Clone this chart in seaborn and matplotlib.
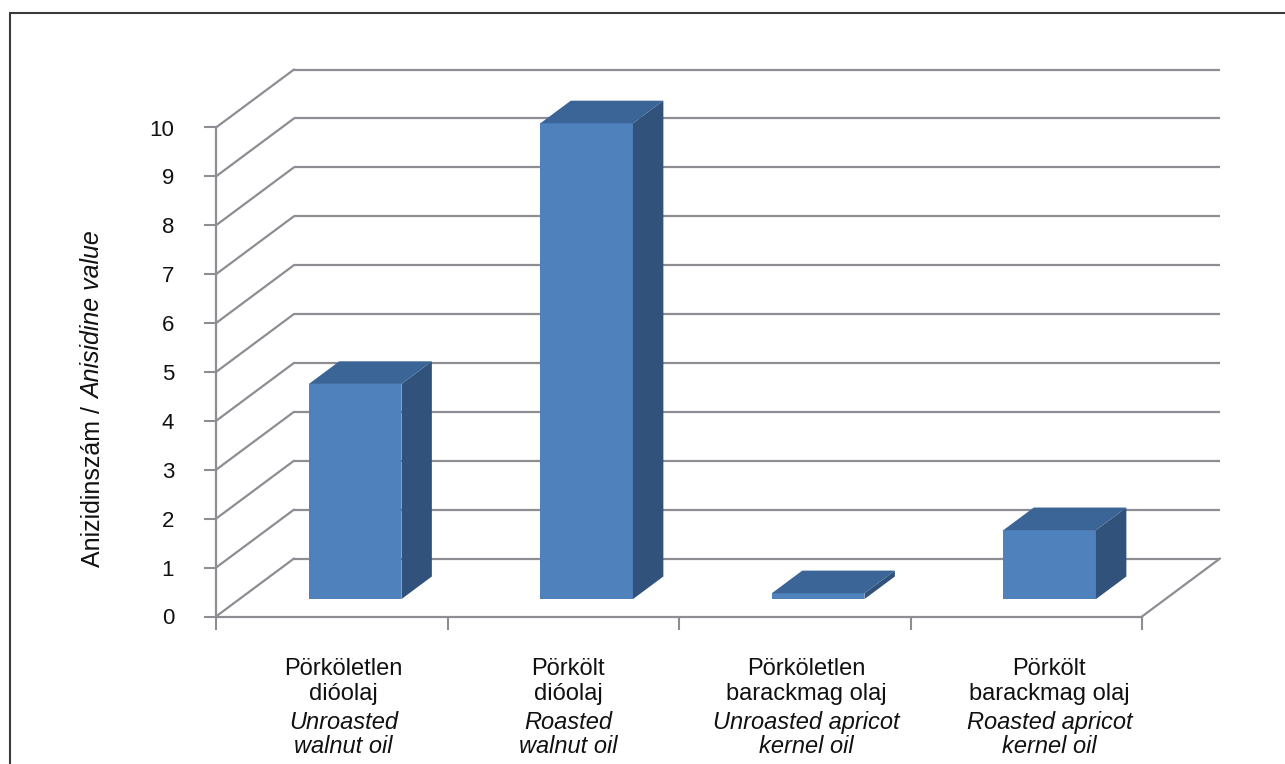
import matplotlib
matplotlib.use("Agg")
import matplotlib.pyplot as plt
from matplotlib.patches import Polygon
from matplotlib.lines import Line2D
import seaborn as sns

# Anizidinszám / Anisidine value of the four oils
labels_hu = ['Pörköletlen\ndióolaj', 'Pörkölt\ndióolaj',
             'Pörköletlen\nbarackmag olaj', 'Pörkölt\nbarackmag olaj']
labels_en = ['Unroasted\nwalnut oil', 'Roasted\nwalnut oil',
             'Unroasted apricot\nkernel oil', 'Roasted apricot\nkernel oil']
anisidine = [4.40, 9.73, 0.12, 1.41]
yticks = list(range(0, 11))

sns.set_style('white')
plt.rcParams['font.family'] = ['Liberation Sans', 'DejaVu Sans']

W, H = 1285, 764
fig = plt.figure(figsize=(W / 100, H / 100), dpi=100)
ax = fig.add_axes([216 / W, 1 - 616.5 / H, 926 / W, 489 / H])

front_col = '#4f81bd'
side_col = '#31527b'
top_col = '#3b6596'
grid_col = '#8c8e93'

sns.barplot(x=labels_hu, y=anisidine, color=front_col, width=0.4,
            saturation=1, ax=ax, zorder=3)

ax.set_xlim(-0.5, 3.5)
ax.set_ylim(0, 10)

# depth of the 3d box (in data units)
DX, DY = 78 / 231.5, 58 / 48.9
f0, f1 = 0.30, 0.69
ddx, ddy = (f1 - f0) * DX, (f1 - f0) * DY

for p in list(ax.patches):
    x0 = p.get_x() + f0 * DX
    y0 = f0 * DY
    w, h = p.get_width(), p.get_height()
    p.set_x(x0)
    p.set_y(y0)
    p.set_linewidth(0)
    p.set_clip_on(False)
    top = Polygon([(x0, y0 + h), (x0 + w, y0 + h), (x0 + w + ddx, y0 + h + ddy),
                   (x0 + ddx, y0 + h + ddy)], closed=True, facecolor=top_col,
                  edgecolor='none', zorder=3, clip_on=False)
    side = Polygon([(x0 + w, y0), (x0 + w + ddx, y0 + ddy), (x0 + w + ddx, y0 + h + ddy),
                    (x0 + w, y0 + h)], closed=True, facecolor=side_col,
                   edgecolor='none', zorder=3, clip_on=False)
    ax.add_patch(side)
    ax.add_patch(top)

# back wall gridlines + left wall diagonals
for v in yticks:
    ax.plot([-0.5 + DX, 3.5 + DX], [v + DY, v + DY], color=grid_col, lw=1.6,
            zorder=1, clip_on=False, solid_capstyle='butt')
    ax.plot([-0.5, -0.5 + DX], [v, v + DY], color=grid_col, lw=1.6,
            zorder=1, clip_on=False)
# floor right edge
ax.plot([3.5, 3.5 + DX], [0, DY], color=grid_col, lw=1.6, zorder=1, clip_on=False)

for s in ['top', 'right']:
    ax.spines[s].set_visible(False)
for s in ['left', 'bottom']:
    ax.spines[s].set_color(grid_col)
    ax.spines[s].set_linewidth(1.6)

ax.set_yticks(yticks)
ax.set_xticks([-0.5, 0.5, 1.5, 2.5, 3.5])
ax.set_xticklabels([])
ax.tick_params(axis='y', left=True, length=8.5, width=1.5, color=grid_col,
               pad=21.6, labelsize=16, labelcolor='#111111')
ax.tick_params(axis='x', bottom=True, length=9.5, width=1.5, color=grid_col)
ax.set_xlabel('')
ax.set_ylabel('')
ax.set_facecolor('none')

# category labels, one line at a time
shift = [0.05, 0.02, 0.05, 0.10]
baselines = [675, 700, 729, 753]
for i in range(len(labels_hu)):
    lines = labels_hu[i].split('\n') + labels_en[i].split('\n')
    for j, line in enumerate(lines):
        ax.text(i + shift[i], (616.5 - baselines[j]) / 489, line,
                transform=ax.get_xaxis_transform(), ha='center', va='baseline',
                fontsize=17, style='normal' if j < 2 else 'italic', color='#111111')

# y label: regular part + italic part
t1 = fig.text(93 / W, 1 - 567 / H, 'Anizidinszám / ', rotation=90,
              rotation_mode='anchor', ha='left', va='center', fontsize=18,
              color='#111111')
fig.canvas.draw()
bb = t1.get_window_extent()
fig.text(93 / W, bb.y1 / H, 'Anisidine value', rotation=90, rotation_mode='anchor',
         ha='left', va='center', fontsize=18, style='italic', color='#111111')

# frame around the figure
fig.add_artist(Line2D([10 / W, 1], [1 - 13 / H, 1 - 13 / H], color='#3a3a3a', lw=1.5,
                      transform=fig.transFigure))
fig.add_artist(Line2D([10 / W, 10 / W], [0, 1 - 13 / H], color='#3a3a3a', lw=1.5,
                      transform=fig.transFigure))

fig.savefig('out.png', dpi=100)
